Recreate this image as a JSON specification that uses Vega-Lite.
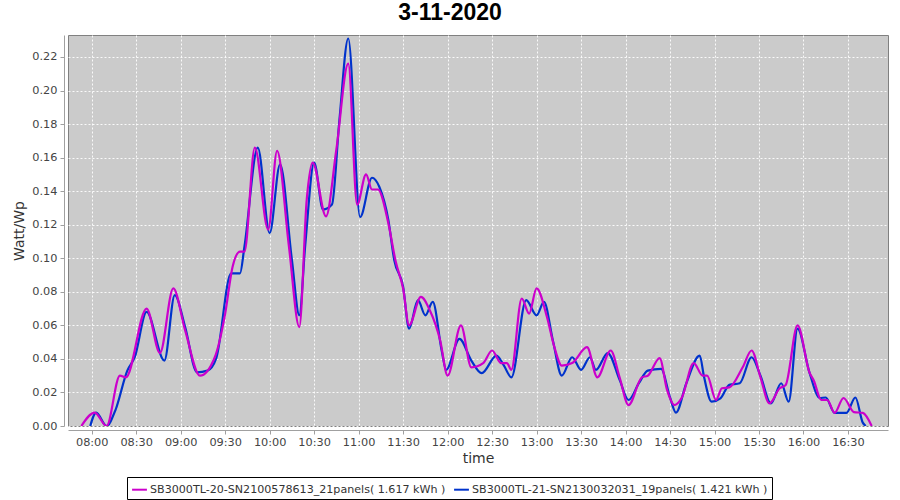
{
  "$schema": "https://vega.github.io/schema/vega-lite/v6.json",
  "autosize": {"type": "none"},
  "width": 820,
  "height": 391,
  "padding": {"left": 68, "top": 35, "right": 12, "bottom": 74},
  "background": "white",
  "title": {
    "text": "3-11-2020",
    "font": "Liberation Sans",
    "fontSize": 23,
    "fontWeight": "bold",
    "color": "#000000",
    "anchor": "middle",
    "dx": -28,
    "offset": 10
  },
  "datasets": {
    "pts": [
      {"series": "SB3000TL-20-SN2100578613_21panels( 1.617 kWh )", "t": "2020-11-03T07:53:00", "v": 0},
      {"series": "SB3000TL-20-SN2100578613_21panels( 1.617 kWh )", "t": "2020-11-03T08:02:00", "v": 0.008},
      {"series": "SB3000TL-20-SN2100578613_21panels( 1.617 kWh )", "t": "2020-11-03T08:10:00", "v": 0},
      {"series": "SB3000TL-20-SN2100578613_21panels( 1.617 kWh )", "t": "2020-11-03T08:19:00", "v": 0.030},
      {"series": "SB3000TL-20-SN2100578613_21panels( 1.617 kWh )", "t": "2020-11-03T08:23:00", "v": 0.029},
      {"series": "SB3000TL-20-SN2100578613_21panels( 1.617 kWh )", "t": "2020-11-03T08:37:00", "v": 0.070},
      {"series": "SB3000TL-20-SN2100578613_21panels( 1.617 kWh )", "t": "2020-11-03T08:46:00", "v": 0.0435},
      {"series": "SB3000TL-20-SN2100578613_21panels( 1.617 kWh )", "t": "2020-11-03T08:55:00", "v": 0.082},
      {"series": "SB3000TL-20-SN2100578613_21panels( 1.617 kWh )", "t": "2020-11-03T09:03:00", "v": 0.057},
      {"series": "SB3000TL-20-SN2100578613_21panels( 1.617 kWh )", "t": "2020-11-03T09:13:00", "v": 0.030},
      {"series": "SB3000TL-20-SN2100578613_21panels( 1.617 kWh )", "t": "2020-11-03T09:23:00", "v": 0.041},
      {"series": "SB3000TL-20-SN2100578613_21panels( 1.617 kWh )", "t": "2020-11-03T09:30:00", "v": 0.067},
      {"series": "SB3000TL-20-SN2100578613_21panels( 1.617 kWh )", "t": "2020-11-03T09:35:00", "v": 0.095},
      {"series": "SB3000TL-20-SN2100578613_21panels( 1.617 kWh )", "t": "2020-11-03T09:40:00", "v": 0.104},
      {"series": "SB3000TL-20-SN2100578613_21panels( 1.617 kWh )", "t": "2020-11-03T09:43:00", "v": 0.104},
      {"series": "SB3000TL-20-SN2100578613_21panels( 1.617 kWh )", "t": "2020-11-03T09:50:00", "v": 0.166},
      {"series": "SB3000TL-20-SN2100578613_21panels( 1.617 kWh )", "t": "2020-11-03T09:59:00", "v": 0.117},
      {"series": "SB3000TL-20-SN2100578613_21panels( 1.617 kWh )", "t": "2020-11-03T10:05:00", "v": 0.164},
      {"series": "SB3000TL-20-SN2100578613_21panels( 1.617 kWh )", "t": "2020-11-03T10:13:00", "v": 0.107},
      {"series": "SB3000TL-20-SN2100578613_21panels( 1.617 kWh )", "t": "2020-11-03T10:20:00", "v": 0.059},
      {"series": "SB3000TL-20-SN2100578613_21panels( 1.617 kWh )", "t": "2020-11-03T10:25:00", "v": 0.135},
      {"series": "SB3000TL-20-SN2100578613_21panels( 1.617 kWh )", "t": "2020-11-03T10:29:00", "v": 0.157},
      {"series": "SB3000TL-20-SN2100578613_21panels( 1.617 kWh )", "t": "2020-11-03T10:38:00", "v": 0.125},
      {"series": "SB3000TL-20-SN2100578613_21panels( 1.617 kWh )", "t": "2020-11-03T10:45:00", "v": 0.165},
      {"series": "SB3000TL-20-SN2100578613_21panels( 1.617 kWh )", "t": "2020-11-03T10:53:00", "v": 0.216},
      {"series": "SB3000TL-20-SN2100578613_21panels( 1.617 kWh )", "t": "2020-11-03T10:59:00", "v": 0.132},
      {"series": "SB3000TL-20-SN2100578613_21panels( 1.617 kWh )", "t": "2020-11-03T11:05:00", "v": 0.150},
      {"series": "SB3000TL-20-SN2100578613_21panels( 1.617 kWh )", "t": "2020-11-03T11:09:00", "v": 0.141},
      {"series": "SB3000TL-20-SN2100578613_21panels( 1.617 kWh )", "t": "2020-11-03T11:13:00", "v": 0.141},
      {"series": "SB3000TL-20-SN2100578613_21panels( 1.617 kWh )", "t": "2020-11-03T11:20:00", "v": 0.121},
      {"series": "SB3000TL-20-SN2100578613_21panels( 1.617 kWh )", "t": "2020-11-03T11:25:00", "v": 0.098},
      {"series": "SB3000TL-20-SN2100578613_21panels( 1.617 kWh )", "t": "2020-11-03T11:30:00", "v": 0.082},
      {"series": "SB3000TL-20-SN2100578613_21panels( 1.617 kWh )", "t": "2020-11-03T11:34:00", "v": 0.060},
      {"series": "SB3000TL-20-SN2100578613_21panels( 1.617 kWh )", "t": "2020-11-03T11:42:00", "v": 0.077},
      {"series": "SB3000TL-20-SN2100578613_21panels( 1.617 kWh )", "t": "2020-11-03T11:48:00", "v": 0.069},
      {"series": "SB3000TL-20-SN2100578613_21panels( 1.617 kWh )", "t": "2020-11-03T11:55:00", "v": 0.051},
      {"series": "SB3000TL-20-SN2100578613_21panels( 1.617 kWh )", "t": "2020-11-03T12:00:00", "v": 0.030},
      {"series": "SB3000TL-20-SN2100578613_21panels( 1.617 kWh )", "t": "2020-11-03T12:09:00", "v": 0.060},
      {"series": "SB3000TL-20-SN2100578613_21panels( 1.617 kWh )", "t": "2020-11-03T12:16:00", "v": 0.035},
      {"series": "SB3000TL-20-SN2100578613_21panels( 1.617 kWh )", "t": "2020-11-03T12:24:00", "v": 0.0375},
      {"series": "SB3000TL-20-SN2100578613_21panels( 1.617 kWh )", "t": "2020-11-03T12:30:00", "v": 0.045},
      {"series": "SB3000TL-20-SN2100578613_21panels( 1.617 kWh )", "t": "2020-11-03T12:36:00", "v": 0.0375},
      {"series": "SB3000TL-20-SN2100578613_21panels( 1.617 kWh )", "t": "2020-11-03T12:40:00", "v": 0.0375},
      {"series": "SB3000TL-20-SN2100578613_21panels( 1.617 kWh )", "t": "2020-11-03T12:43:00", "v": 0.0335},
      {"series": "SB3000TL-20-SN2100578613_21panels( 1.617 kWh )", "t": "2020-11-03T12:50:00", "v": 0.076},
      {"series": "SB3000TL-20-SN2100578613_21panels( 1.617 kWh )", "t": "2020-11-03T12:55:00", "v": 0.067},
      {"series": "SB3000TL-20-SN2100578613_21panels( 1.617 kWh )", "t": "2020-11-03T13:00:00", "v": 0.082},
      {"series": "SB3000TL-20-SN2100578613_21panels( 1.617 kWh )", "t": "2020-11-03T13:07:00", "v": 0.065},
      {"series": "SB3000TL-20-SN2100578613_21panels( 1.617 kWh )", "t": "2020-11-03T13:12:00", "v": 0.047},
      {"series": "SB3000TL-20-SN2100578613_21panels( 1.617 kWh )", "t": "2020-11-03T13:17:00", "v": 0.036},
      {"series": "SB3000TL-20-SN2100578613_21panels( 1.617 kWh )", "t": "2020-11-03T13:24:00", "v": 0.0375},
      {"series": "SB3000TL-20-SN2100578613_21panels( 1.617 kWh )", "t": "2020-11-03T13:34:00", "v": 0.047},
      {"series": "SB3000TL-20-SN2100578613_21panels( 1.617 kWh )", "t": "2020-11-03T13:41:00", "v": 0.029},
      {"series": "SB3000TL-20-SN2100578613_21panels( 1.617 kWh )", "t": "2020-11-03T13:50:00", "v": 0.045},
      {"series": "SB3000TL-20-SN2100578613_21panels( 1.617 kWh )", "t": "2020-11-03T13:56:00", "v": 0.029},
      {"series": "SB3000TL-20-SN2100578613_21panels( 1.617 kWh )", "t": "2020-11-03T14:02:00", "v": 0.0125},
      {"series": "SB3000TL-20-SN2100578613_21panels( 1.617 kWh )", "t": "2020-11-03T14:11:00", "v": 0.029},
      {"series": "SB3000TL-20-SN2100578613_21panels( 1.617 kWh )", "t": "2020-11-03T14:15:00", "v": 0.030},
      {"series": "SB3000TL-20-SN2100578613_21panels( 1.617 kWh )", "t": "2020-11-03T14:23:00", "v": 0.0405},
      {"series": "SB3000TL-20-SN2100578613_21panels( 1.617 kWh )", "t": "2020-11-03T14:28:00", "v": 0.0215},
      {"series": "SB3000TL-20-SN2100578613_21panels( 1.617 kWh )", "t": "2020-11-03T14:33:00", "v": 0.0125},
      {"series": "SB3000TL-20-SN2100578613_21panels( 1.617 kWh )", "t": "2020-11-03T14:38:00", "v": 0.017},
      {"series": "SB3000TL-20-SN2100578613_21panels( 1.617 kWh )", "t": "2020-11-03T14:46:00", "v": 0.0375},
      {"series": "SB3000TL-20-SN2100578613_21panels( 1.617 kWh )", "t": "2020-11-03T14:52:00", "v": 0.030},
      {"series": "SB3000TL-20-SN2100578613_21panels( 1.617 kWh )", "t": "2020-11-03T14:55:00", "v": 0.030},
      {"series": "SB3000TL-20-SN2100578613_21panels( 1.617 kWh )", "t": "2020-11-03T15:01:00", "v": 0.0155},
      {"series": "SB3000TL-20-SN2100578613_21panels( 1.617 kWh )", "t": "2020-11-03T15:05:00", "v": 0.0225},
      {"series": "SB3000TL-20-SN2100578613_21panels( 1.617 kWh )", "t": "2020-11-03T15:10:00", "v": 0.023},
      {"series": "SB3000TL-20-SN2100578613_21panels( 1.617 kWh )", "t": "2020-11-03T15:19:00", "v": 0.035},
      {"series": "SB3000TL-20-SN2100578613_21panels( 1.617 kWh )", "t": "2020-11-03T15:25:00", "v": 0.045},
      {"series": "SB3000TL-20-SN2100578613_21panels( 1.617 kWh )", "t": "2020-11-03T15:31:00", "v": 0.029},
      {"series": "SB3000TL-20-SN2100578613_21panels( 1.617 kWh )", "t": "2020-11-03T15:37:00", "v": 0.0135},
      {"series": "SB3000TL-20-SN2100578613_21panels( 1.617 kWh )", "t": "2020-11-03T15:44:00", "v": 0.0225},
      {"series": "SB3000TL-20-SN2100578613_21panels( 1.617 kWh )", "t": "2020-11-03T15:48:00", "v": 0.0245},
      {"series": "SB3000TL-20-SN2100578613_21panels( 1.617 kWh )", "t": "2020-11-03T15:56:00", "v": 0.060},
      {"series": "SB3000TL-20-SN2100578613_21panels( 1.617 kWh )", "t": "2020-11-03T16:04:00", "v": 0.032},
      {"series": "SB3000TL-20-SN2100578613_21panels( 1.617 kWh )", "t": "2020-11-03T16:07:00", "v": 0.027},
      {"series": "SB3000TL-20-SN2100578613_21panels( 1.617 kWh )", "t": "2020-11-03T16:12:00", "v": 0.0155},
      {"series": "SB3000TL-20-SN2100578613_21panels( 1.617 kWh )", "t": "2020-11-03T16:16:00", "v": 0.0155},
      {"series": "SB3000TL-20-SN2100578613_21panels( 1.617 kWh )", "t": "2020-11-03T16:21:00", "v": 0.0078},
      {"series": "SB3000TL-20-SN2100578613_21panels( 1.617 kWh )", "t": "2020-11-03T16:27:00", "v": 0.0167},
      {"series": "SB3000TL-20-SN2100578613_21panels( 1.617 kWh )", "t": "2020-11-03T16:34:00", "v": 0.0083},
      {"series": "SB3000TL-20-SN2100578613_21panels( 1.617 kWh )", "t": "2020-11-03T16:40:00", "v": 0.0078},
      {"series": "SB3000TL-20-SN2100578613_21panels( 1.617 kWh )", "t": "2020-11-03T16:46:00", "v": 0},

      {"series": "SB3000TL-21-SN2130032031_19panels( 1.421 kWh )", "t": "2020-11-03T07:59:00", "v": 0},
      {"series": "SB3000TL-21-SN2130032031_19panels( 1.421 kWh )", "t": "2020-11-03T08:03:00", "v": 0.008},
      {"series": "SB3000TL-21-SN2130032031_19panels( 1.421 kWh )", "t": "2020-11-03T08:10:00", "v": 0},
      {"series": "SB3000TL-21-SN2130032031_19panels( 1.421 kWh )", "t": "2020-11-03T08:16:00", "v": 0.0095},
      {"series": "SB3000TL-21-SN2130032031_19panels( 1.421 kWh )", "t": "2020-11-03T08:24:00", "v": 0.033},
      {"series": "SB3000TL-21-SN2130032031_19panels( 1.421 kWh )", "t": "2020-11-03T08:29:00", "v": 0.041},
      {"series": "SB3000TL-21-SN2130032031_19panels( 1.421 kWh )", "t": "2020-11-03T08:37:00", "v": 0.068},
      {"series": "SB3000TL-21-SN2130032031_19panels( 1.421 kWh )", "t": "2020-11-03T08:49:00", "v": 0.039},
      {"series": "SB3000TL-21-SN2130032031_19panels( 1.421 kWh )", "t": "2020-11-03T08:56:00", "v": 0.078},
      {"series": "SB3000TL-21-SN2130032031_19panels( 1.421 kWh )", "t": "2020-11-03T09:03:00", "v": 0.059},
      {"series": "SB3000TL-21-SN2130032031_19panels( 1.421 kWh )", "t": "2020-11-03T09:11:00", "v": 0.032},
      {"series": "SB3000TL-21-SN2130032031_19panels( 1.421 kWh )", "t": "2020-11-03T09:18:00", "v": 0.033},
      {"series": "SB3000TL-21-SN2130032031_19panels( 1.421 kWh )", "t": "2020-11-03T09:24:00", "v": 0.0405},
      {"series": "SB3000TL-21-SN2130032031_19panels( 1.421 kWh )", "t": "2020-11-03T09:34:00", "v": 0.091},
      {"series": "SB3000TL-21-SN2130032031_19panels( 1.421 kWh )", "t": "2020-11-03T09:40:00", "v": 0.091},
      {"series": "SB3000TL-21-SN2130032031_19panels( 1.421 kWh )", "t": "2020-11-03T09:43:00", "v": 0.107},
      {"series": "SB3000TL-21-SN2130032031_19panels( 1.421 kWh )", "t": "2020-11-03T09:52:00", "v": 0.166},
      {"series": "SB3000TL-21-SN2130032031_19panels( 1.421 kWh )", "t": "2020-11-03T10:00:00", "v": 0.115},
      {"series": "SB3000TL-21-SN2130032031_19panels( 1.421 kWh )", "t": "2020-11-03T10:07:00", "v": 0.156},
      {"series": "SB3000TL-21-SN2130032031_19panels( 1.421 kWh )", "t": "2020-11-03T10:15:00", "v": 0.099},
      {"series": "SB3000TL-21-SN2130032031_19panels( 1.421 kWh )", "t": "2020-11-03T10:20:00", "v": 0.066},
      {"series": "SB3000TL-21-SN2130032031_19panels( 1.421 kWh )", "t": "2020-11-03T10:24:00", "v": 0.108},
      {"series": "SB3000TL-21-SN2130032031_19panels( 1.421 kWh )", "t": "2020-11-03T10:30:00", "v": 0.157},
      {"series": "SB3000TL-21-SN2130032031_19panels( 1.421 kWh )", "t": "2020-11-03T10:36:00", "v": 0.129},
      {"series": "SB3000TL-21-SN2130032031_19panels( 1.421 kWh )", "t": "2020-11-03T10:42:00", "v": 0.132},
      {"series": "SB3000TL-21-SN2130032031_19panels( 1.421 kWh )", "t": "2020-11-03T10:47:00", "v": 0.182},
      {"series": "SB3000TL-21-SN2130032031_19panels( 1.421 kWh )", "t": "2020-11-03T10:53:00", "v": 0.231},
      {"series": "SB3000TL-21-SN2130032031_19panels( 1.421 kWh )", "t": "2020-11-03T11:01:00", "v": 0.1246},
      {"series": "SB3000TL-21-SN2130032031_19panels( 1.421 kWh )", "t": "2020-11-03T11:09:00", "v": 0.148},
      {"series": "SB3000TL-21-SN2130032031_19panels( 1.421 kWh )", "t": "2020-11-03T11:14:00", "v": 0.1425},
      {"series": "SB3000TL-21-SN2130032031_19panels( 1.421 kWh )", "t": "2020-11-03T11:20:00", "v": 0.123},
      {"series": "SB3000TL-21-SN2130032031_19panels( 1.421 kWh )", "t": "2020-11-03T11:24:00", "v": 0.099},
      {"series": "SB3000TL-21-SN2130032031_19panels( 1.421 kWh )", "t": "2020-11-03T11:30:00", "v": 0.083},
      {"series": "SB3000TL-21-SN2130032031_19panels( 1.421 kWh )", "t": "2020-11-03T11:34:00", "v": 0.058},
      {"series": "SB3000TL-21-SN2130032031_19panels( 1.421 kWh )", "t": "2020-11-03T11:40:00", "v": 0.075},
      {"series": "SB3000TL-21-SN2130032031_19panels( 1.421 kWh )", "t": "2020-11-03T11:45:00", "v": 0.066},
      {"series": "SB3000TL-21-SN2130032031_19panels( 1.421 kWh )", "t": "2020-11-03T11:50:00", "v": 0.074},
      {"series": "SB3000TL-21-SN2130032031_19panels( 1.421 kWh )", "t": "2020-11-03T11:56:00", "v": 0.045},
      {"series": "SB3000TL-21-SN2130032031_19panels( 1.421 kWh )", "t": "2020-11-03T11:59:00", "v": 0.0335},
      {"series": "SB3000TL-21-SN2130032031_19panels( 1.421 kWh )", "t": "2020-11-03T12:08:00", "v": 0.052},
      {"series": "SB3000TL-21-SN2130032031_19panels( 1.421 kWh )", "t": "2020-11-03T12:16:00", "v": 0.039},
      {"series": "SB3000TL-21-SN2130032031_19panels( 1.421 kWh )", "t": "2020-11-03T12:23:00", "v": 0.0315},
      {"series": "SB3000TL-21-SN2130032031_19panels( 1.421 kWh )", "t": "2020-11-03T12:33:00", "v": 0.042},
      {"series": "SB3000TL-21-SN2130032031_19panels( 1.421 kWh )", "t": "2020-11-03T12:38:00", "v": 0.036},
      {"series": "SB3000TL-21-SN2130032031_19panels( 1.421 kWh )", "t": "2020-11-03T12:43:00", "v": 0.029},
      {"series": "SB3000TL-21-SN2130032031_19panels( 1.421 kWh )", "t": "2020-11-03T12:53:00", "v": 0.075},
      {"series": "SB3000TL-21-SN2130032031_19panels( 1.421 kWh )", "t": "2020-11-03T13:00:00", "v": 0.066},
      {"series": "SB3000TL-21-SN2130032031_19panels( 1.421 kWh )", "t": "2020-11-03T13:05:00", "v": 0.074},
      {"series": "SB3000TL-21-SN2130032031_19panels( 1.421 kWh )", "t": "2020-11-03T13:11:00", "v": 0.051},
      {"series": "SB3000TL-21-SN2130032031_19panels( 1.421 kWh )", "t": "2020-11-03T13:17:00", "v": 0.030},
      {"series": "SB3000TL-21-SN2130032031_19panels( 1.421 kWh )", "t": "2020-11-03T13:24:00", "v": 0.041},
      {"series": "SB3000TL-21-SN2130032031_19panels( 1.421 kWh )", "t": "2020-11-03T13:30:00", "v": 0.0335},
      {"series": "SB3000TL-21-SN2130032031_19panels( 1.421 kWh )", "t": "2020-11-03T13:36:00", "v": 0.041},
      {"series": "SB3000TL-21-SN2130032031_19panels( 1.421 kWh )", "t": "2020-11-03T13:40:00", "v": 0.0335},
      {"series": "SB3000TL-21-SN2130032031_19panels( 1.421 kWh )", "t": "2020-11-03T13:48:00", "v": 0.0435},
      {"series": "SB3000TL-21-SN2130032031_19panels( 1.421 kWh )", "t": "2020-11-03T13:56:00", "v": 0.0275},
      {"series": "SB3000TL-21-SN2130032031_19panels( 1.421 kWh )", "t": "2020-11-03T14:02:00", "v": 0.0155},
      {"series": "SB3000TL-21-SN2130032031_19panels( 1.421 kWh )", "t": "2020-11-03T14:09:00", "v": 0.0255},
      {"series": "SB3000TL-21-SN2130032031_19panels( 1.421 kWh )", "t": "2020-11-03T14:15:00", "v": 0.033},
      {"series": "SB3000TL-21-SN2130032031_19panels( 1.421 kWh )", "t": "2020-11-03T14:24:00", "v": 0.034},
      {"series": "SB3000TL-21-SN2130032031_19panels( 1.421 kWh )", "t": "2020-11-03T14:30:00", "v": 0.017},
      {"series": "SB3000TL-21-SN2130032031_19panels( 1.421 kWh )", "t": "2020-11-03T14:34:00", "v": 0.008},
      {"series": "SB3000TL-21-SN2130032031_19panels( 1.421 kWh )", "t": "2020-11-03T14:41:00", "v": 0.0255},
      {"series": "SB3000TL-21-SN2130032031_19panels( 1.421 kWh )", "t": "2020-11-03T14:50:00", "v": 0.042},
      {"series": "SB3000TL-21-SN2130032031_19panels( 1.421 kWh )", "t": "2020-11-03T14:53:00", "v": 0.029},
      {"series": "SB3000TL-21-SN2130032031_19panels( 1.421 kWh )", "t": "2020-11-03T14:58:00", "v": 0.0145},
      {"series": "SB3000TL-21-SN2130032031_19panels( 1.421 kWh )", "t": "2020-11-03T15:04:00", "v": 0.0165},
      {"series": "SB3000TL-21-SN2130032031_19panels( 1.421 kWh )", "t": "2020-11-03T15:10:00", "v": 0.0245},
      {"series": "SB3000TL-21-SN2130032031_19panels( 1.421 kWh )", "t": "2020-11-03T15:17:00", "v": 0.0255},
      {"series": "SB3000TL-21-SN2130032031_19panels( 1.421 kWh )", "t": "2020-11-03T15:25:00", "v": 0.041},
      {"series": "SB3000TL-21-SN2130032031_19panels( 1.421 kWh )", "t": "2020-11-03T15:31:00", "v": 0.030},
      {"series": "SB3000TL-21-SN2130032031_19panels( 1.421 kWh )", "t": "2020-11-03T15:38:00", "v": 0.0135},
      {"series": "SB3000TL-21-SN2130032031_19panels( 1.421 kWh )", "t": "2020-11-03T15:45:00", "v": 0.0255},
      {"series": "SB3000TL-21-SN2130032031_19panels( 1.421 kWh )", "t": "2020-11-03T15:50:00", "v": 0.0145},
      {"series": "SB3000TL-21-SN2130032031_19panels( 1.421 kWh )", "t": "2020-11-03T15:56:00", "v": 0.058},
      {"series": "SB3000TL-21-SN2130032031_19panels( 1.421 kWh )", "t": "2020-11-03T16:04:00", "v": 0.032},
      {"series": "SB3000TL-21-SN2130032031_19panels( 1.421 kWh )", "t": "2020-11-03T16:11:00", "v": 0.0167},
      {"series": "SB3000TL-21-SN2130032031_19panels( 1.421 kWh )", "t": "2020-11-03T16:15:00", "v": 0.017},
      {"series": "SB3000TL-21-SN2130032031_19panels( 1.421 kWh )", "t": "2020-11-03T16:21:00", "v": 0.0078},
      {"series": "SB3000TL-21-SN2130032031_19panels( 1.421 kWh )", "t": "2020-11-03T16:29:00", "v": 0.0078},
      {"series": "SB3000TL-21-SN2130032031_19panels( 1.421 kWh )", "t": "2020-11-03T16:35:00", "v": 0.017},
      {"series": "SB3000TL-21-SN2130032031_19panels( 1.421 kWh )", "t": "2020-11-03T16:40:00", "v": 0.002},
      {"series": "SB3000TL-21-SN2130032031_19panels( 1.421 kWh )", "t": "2020-11-03T16:42:00", "v": 0}
    ]
  },
  "data": {"name": "pts"},
  "encoding": {
    "x": {
      "field": "t",
      "type": "temporal",
      "title": "time",
      "scale": {
        "domain": [
          {"year": 2020, "month": 11, "date": 3, "hours": 7, "minutes": 44},
          {"year": 2020, "month": 11, "date": 3, "hours": 16, "minutes": 57}
        ]
      },
      "axis": {
        "format": "%H:%M",
        "values": [
          {"year": 2020, "month": 11, "date": 3, "hours": 8, "minutes": 0},
          {"year": 2020, "month": 11, "date": 3, "hours": 8, "minutes": 30},
          {"year": 2020, "month": 11, "date": 3, "hours": 9, "minutes": 0},
          {"year": 2020, "month": 11, "date": 3, "hours": 9, "minutes": 30},
          {"year": 2020, "month": 11, "date": 3, "hours": 10, "minutes": 0},
          {"year": 2020, "month": 11, "date": 3, "hours": 10, "minutes": 30},
          {"year": 2020, "month": 11, "date": 3, "hours": 11, "minutes": 0},
          {"year": 2020, "month": 11, "date": 3, "hours": 11, "minutes": 30},
          {"year": 2020, "month": 11, "date": 3, "hours": 12, "minutes": 0},
          {"year": 2020, "month": 11, "date": 3, "hours": 12, "minutes": 30},
          {"year": 2020, "month": 11, "date": 3, "hours": 13, "minutes": 0},
          {"year": 2020, "month": 11, "date": 3, "hours": 13, "minutes": 30},
          {"year": 2020, "month": 11, "date": 3, "hours": 14, "minutes": 0},
          {"year": 2020, "month": 11, "date": 3, "hours": 14, "minutes": 30},
          {"year": 2020, "month": 11, "date": 3, "hours": 15, "minutes": 0},
          {"year": 2020, "month": 11, "date": 3, "hours": 15, "minutes": 30},
          {"year": 2020, "month": 11, "date": 3, "hours": 16, "minutes": 0},
          {"year": 2020, "month": 11, "date": 3, "hours": 16, "minutes": 30}
        ],
        "labelAngle": 0,
        "labelPadding": 2,
        "titlePadding": 4,
        "offset": 4
      }
    },
    "y": {
      "field": "v",
      "type": "quantitative",
      "title": "Watt/Wp",
      "scale": {"domain": [0, 0.2331], "nice": false, "zero": true},
      "axis": {
        "values": [0, 0.02, 0.04, 0.06, 0.08, 0.1, 0.12, 0.14, 0.16, 0.18, 0.2, 0.22],
        "format": ".2f",
        "labelPadding": 3,
        "titlePadding": 5,
        "offset": 4
      }
    },
    "color": {
      "field": "series",
      "type": "nominal",
      "scale": {
        "domain": [
          "SB3000TL-20-SN2100578613_21panels( 1.617 kWh )",
          "SB3000TL-21-SN2130032031_19panels( 1.421 kWh )"
        ],
        "range": ["#cc00cc", "#0033cc"]
      },
      "legend": {
        "title": null,
        "orient": "none",
        "legendX": 59,
        "legendY": 442,
        "direction": "horizontal",
        "symbolType": "stroke",
        "symbolStrokeWidth": 2,
        "symbolSize": 220,
        "strokeColor": "#000000",
        "padding": 4,
        "columnPadding": 4,
        "labelOffset": 2,
        "labelFont": "DejaVu Sans",
        "labelFontSize": 11.1,
        "labelColor": "#333333",
        "labelLimit": 0
      }
    }
  },
  "layer": [
    {
      "transform": [{"filter": "datum.series == 'SB3000TL-21-SN2130032031_19panels( 1.421 kWh )'"}],
      "mark": {"type": "line", "interpolate": "monotone", "strokeWidth": 2.2, "clip": true}
    },
    {
      "transform": [{"filter": "datum.series == 'SB3000TL-20-SN2100578613_21panels( 1.617 kWh )'"}],
      "mark": {"type": "line", "interpolate": "monotone", "strokeWidth": 2.2, "clip": true}
    }
  ],
  "config": {
    "view": {"fill": "#cbcbcb", "stroke": "#808080", "strokeWidth": 1},
    "axis": {
      "grid": true,
      "gridColor": "#ffffff",
      "gridDash": [2, 2],
      "gridOpacity": 0.9,
      "gridWidth": 1,
      "domainColor": "#a0a0a0",
      "tickColor": "#a0a0a0",
      "tickSize": 4,
      "labelFont": "DejaVu Sans",
      "labelFontSize": 11.3,
      "labelColor": "#444444",
      "titleFont": "DejaVu Sans",
      "titleFontSize": 14,
      "titleFontWeight": "normal",
      "titleColor": "#333333"
    }
  }
}
